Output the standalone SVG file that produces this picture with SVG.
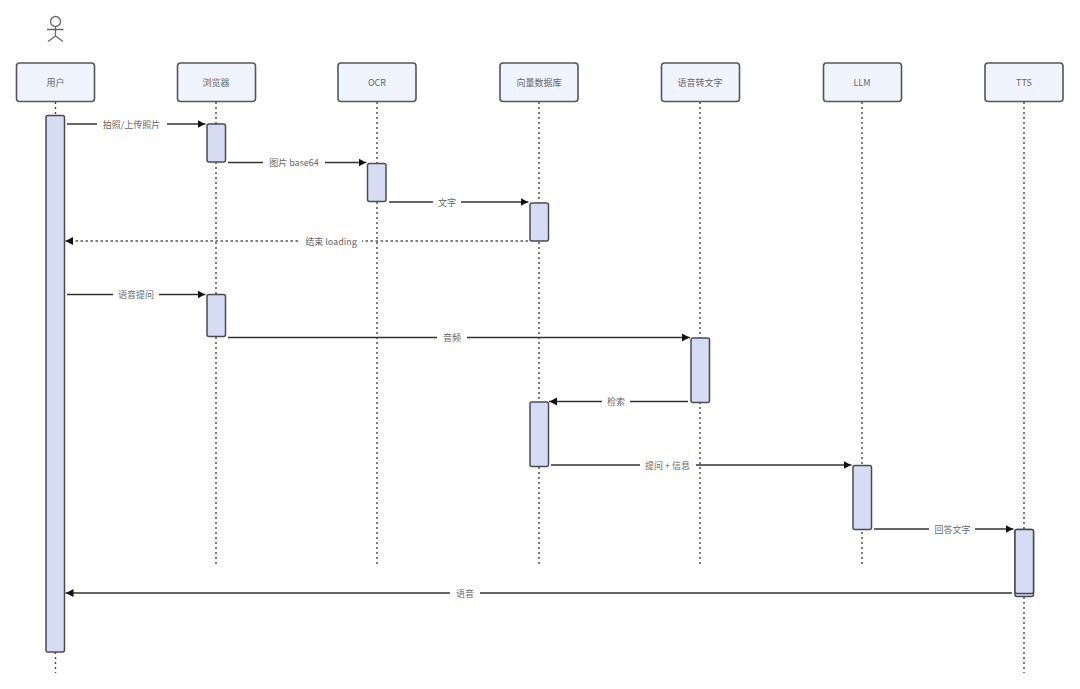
<svg xmlns="http://www.w3.org/2000/svg" width="1080" height="689" viewBox="0 0 1080 689">
<style>
text{font-family:"Noto Sans CJK SC","Noto Sans",sans-serif;font-size:9px;fill:#666;text-anchor:middle}
.head{fill:#f0f4fe;stroke:#55555a;stroke-width:1.6}
.life{stroke:#444;stroke-width:1.4;stroke-dasharray:2 3;fill:none}
.act{fill:#d5dcf4;stroke:#4a4a50;stroke-width:1.5}
.msg{stroke:#333;stroke-width:1.5;fill:none;marker-end:url(#tip)}
.ret{stroke:#555;stroke-width:1.3;stroke-dasharray:2.500 2.500;fill:none;marker-end:url(#tip)}
.gap{fill:#fff;stroke:none}
.person{fill:none;stroke:#666;stroke-width:1.3}
</style>
<defs>
<marker id="tip" markerUnits="userSpaceOnUse" markerWidth="9" markerHeight="10" refX="8" refY="5" orient="auto"><path d="M0 1L7.500 5L0 9z" fill="#111"/></marker>
</defs>
<rect width="1080" height="689" fill="#fff"/>
<g id="lifelines">
<path class="life" d="M55.500 102V673"/>
<path class="life" d="M216 102V565"/>
<path class="life" d="M377 102V565"/>
<path class="life" d="M539 102V565"/>
<path class="life" d="M700 102V565"/>
<path class="life" d="M862 102V565"/>
<path class="life" d="M1024 102V673"/>
</g>
<g id="actor-icon"><circle class="person" cx="55.500" cy="21.500" r="5"/><path class="person" d="M55.500 26.500V35.500M47 29.500H63.500M48 41.500L55.500 36L63 41.500"/></g>
<g id="user"><rect class="head" x="16.500" y="63" width="78" height="38.500" rx="3"/><text x="55.500" y="86">用户</text></g>
<g id="browser"><rect class="head" x="177.500" y="63" width="78" height="38.500" rx="3"/><text x="216" y="86">浏览器</text></g>
<g id="ocr"><rect class="head" x="338" y="63" width="78" height="38.500" rx="3"/><text x="377" y="86">OCR</text></g>
<g id="vectordb"><rect class="head" x="500" y="63" width="78" height="38.500" rx="3"/><text x="539" y="86">向量数据库</text></g>
<g id="stt"><rect class="head" x="661.500" y="63" width="78" height="38.500" rx="3"/><text x="700" y="86">语音转文字</text></g>
<g id="llm"><rect class="head" x="823.500" y="63" width="78" height="38.500" rx="3"/><text x="862" y="86">LLM</text></g>
<g id="tts"><rect class="head" x="985" y="63" width="78" height="38.500" rx="3"/><text x="1024" y="86">TTS</text></g>
<g id="activations">
<rect class="act" x="46" y="115.500" width="18.500" height="536.500" rx="2"/>
<rect class="act" x="207" y="124" width="18.500" height="38" rx="2"/>
<rect class="act" x="367.500" y="163.500" width="18.500" height="38" rx="2"/>
<rect class="act" x="530" y="203" width="18.500" height="38" rx="2"/>
<rect class="act" x="207" y="294.500" width="18.500" height="42" rx="2"/>
<rect class="act" x="691" y="338" width="18.500" height="64.500" rx="2"/>
<rect class="act" x="530" y="402" width="18.500" height="64.500" rx="2"/>
<rect class="act" x="853" y="465.500" width="18.500" height="64" rx="2"/>
<rect class="act" x="1015" y="529.500" width="18.500" height="67" rx="2"/>
<rect class="act" x="1015" y="529.500" width="18.500" height="64" rx="2"/>
</g>
<g id="connectors">
<path class="msg" d="M67 124H205.500"/><rect class="gap" x="97" y="118" width="70" height="12"/><text x="131.500" y="127.500">拍照/上传照片</text>
<path class="msg" d="M228 162.500H366.500"/><rect class="gap" x="263" y="156" width="62" height="12"/><text x="294" y="166">图片 base64</text>
<path class="msg" d="M389 202H528.500"/><rect class="gap" x="433" y="196" width="28" height="12"/><text x="447" y="205.500">文字</text>
<path class="ret" d="M528 241H65"/><rect class="gap" x="300" y="235" width="62" height="12"/><text x="331" y="244.500">结束 loading</text>
<path class="msg" d="M67 294.500H205.500"/><rect class="gap" x="113" y="288" width="46" height="12"/><text x="136" y="298">语音提问</text>
<path class="msg" d="M228 337.500H690"/><rect class="gap" x="437" y="331" width="30" height="12"/><text x="452" y="341">音频</text>
<path class="msg" d="M688 401.500H549"/><rect class="gap" x="602" y="395" width="28" height="12"/><text x="616" y="405">检索</text>
<path class="msg" d="M551 465H851.500"/><rect class="gap" x="640" y="459" width="56" height="12"/><text x="667.500" y="468.500">提问 + 信息</text>
<path class="msg" d="M874 529H1013.500"/><rect class="gap" x="929" y="523" width="46" height="12"/><text x="952.500" y="533">回答文字</text>
<path class="msg" d="M1012 593H65.500"/><rect class="gap" x="450" y="587" width="30" height="12"/><text x="465" y="597">语音</text>
</g>
</svg>
